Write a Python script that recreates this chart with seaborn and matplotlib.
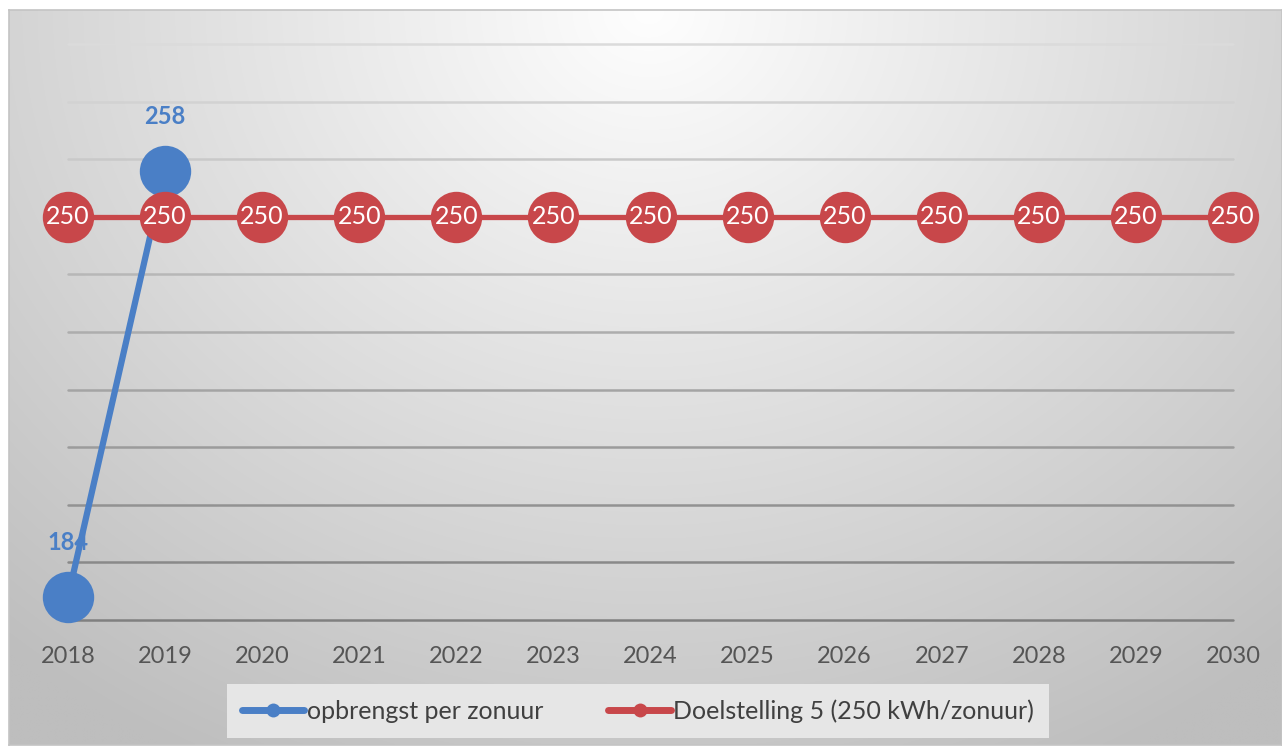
import numpy as np
import pandas as pd
import matplotlib
matplotlib.use("Agg")
import matplotlib.pyplot as plt
import seaborn as sns

# data
years = list(range(2018, 2031))
opbrengst = [184, 258] + [np.nan] * 11
doel = [250] * 13
label_opbrengst = "opbrengst per zonuur"
label_doel = "Doelstelling 5 (250 kWh/zonuur)"

blue = "#4a7fc6"
red = "#c8474a"

sns.set_theme(style="white")
plt.rcParams["font.family"] = ["Lato", "DejaVu Sans"]

W, H = 1282, 751
fig = plt.figure(figsize=(W / 100, H / 100), dpi=100)
fig.patch.set_facecolor("white")

# gradient background panel
bg = fig.add_axes([9 / W, 6 / H, (W - 9) / W, (H - 16) / H])
gx, gy = np.meshgrid(np.linspace(0, W - 9, 400), np.linspace(0, H - 16, 300))
r = np.sqrt(((gx - 640) / 950) ** 2 + ((gy - 0) / 820) ** 2)
val = np.clip(254 - 62 * r, 190, 254) / 255
bg.imshow(np.dstack([val, val, val]), aspect="auto", extent=[0, 1, 1, 0], interpolation="bilinear")
bg.set_xticks([])
bg.set_yticks([])
for s in bg.spines.values():
    s.set_color("#c4c4c4")
    s.set_linewidth(1.2)

ax = fig.add_axes([68 / W, 1 - 620 / H, (1233 - 68) / W, (620 - 44) / H])
ax.set_facecolor("none")

df = pd.DataFrame({"jaar": years, "opbrengst": opbrengst, "doel": doel})

sns.lineplot(data=df.dropna(), x="jaar", y="opbrengst", ax=ax, color=blue, lw=4.5,
             marker="o", markersize=37, markeredgewidth=0, label=label_opbrengst,
             zorder=3, clip_on=False)
sns.lineplot(data=df, x="jaar", y="doel", ax=ax, color=red, lw=3.8,
             marker="o", markersize=37, markeredgewidth=0, label=label_doel,
             zorder=4, clip_on=False)

# data labels
for x, y in zip(years, opbrengst):
    if not np.isnan(y):
        ax.annotate(f"{y:.0f}", (x, y), xytext=(0, 39), textcoords="offset points",
                    ha="center", va="center", color=blue, fontsize=17, fontweight="bold",
                    zorder=5, annotation_clip=False)
for x, y in zip(years, doel):
    ax.annotate(f"{y}", (x, y), ha="center", va="center", color="white",
                fontsize=18, zorder=6, annotation_clip=False)

ax.set_xlim(2018, 2030)
ax.set_ylim(180, 280)
ax.set_xticks(years)
ax.set_xticklabels([str(y) for y in years])
ax.set_yticks(range(180, 281, 10))
ax.set_yticklabels([])
ax.tick_params(axis="y", length=0)
ax.tick_params(axis="x", length=0, pad=19, labelsize=17, labelcolor="#555555")
ax.set_xlabel("")
ax.set_ylabel("")
for s in ax.spines.values():
    s.set_visible(False)

ax.grid(axis="y", lw=1.8)
ax.grid(axis="x", visible=False)
glines = ax.get_ygridlines()
n = len(glines)
for i, gl in enumerate(glines):
    t = i / (n - 1)
    c = 0.50 + 0.36 * t
    gl.set_color((c, c, c))
    gl.set_zorder(1)
    gl.set_clip_on(False)

leg = ax.legend(loc="center", bbox_to_anchor=(638 / W, 1 - 711 / H),
                bbox_transform=fig.transFigure, ncol=2, frameon=True,
                fontsize=18, handlelength=2.5, handletextpad=0.1,
                columnspacing=2.6, borderpad=0.6, borderaxespad=0, fancybox=False)
frame = leg.get_frame()
frame.set_facecolor("#e6e6e6")
frame.set_edgecolor("none")
frame.set_alpha(1)
for t in leg.get_texts():
    t.set_color("#404040")
for h in leg.legend_handles:
    h.set_markersize(10)
    h.set_linewidth(5)

fig.savefig("out.png", dpi=100)
